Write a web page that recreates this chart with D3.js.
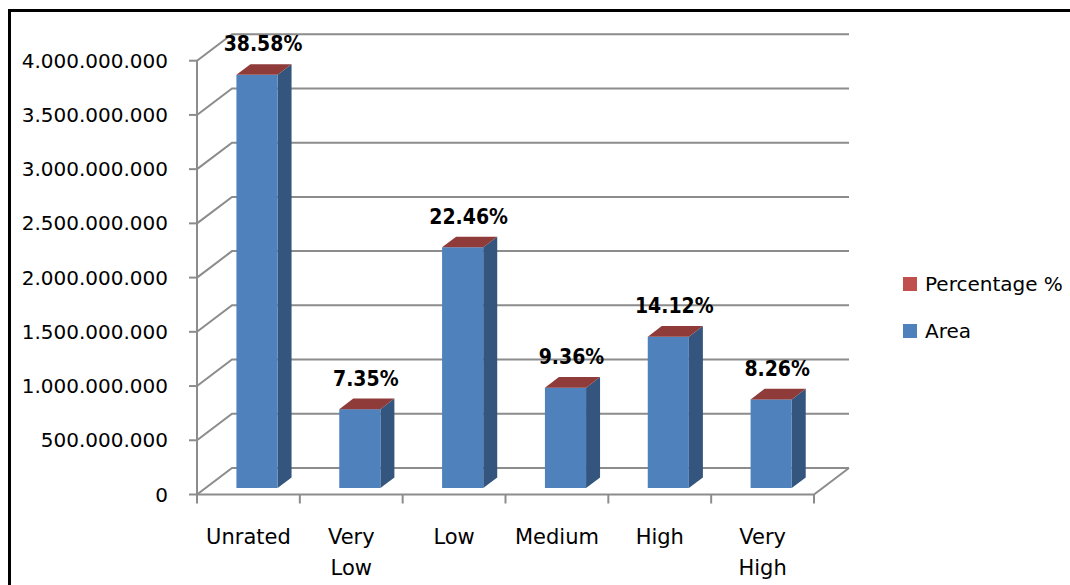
<!DOCTYPE html>
<html>
<head>
<meta charset="utf-8">
<script src="https://cdnjs.cloudflare.com/ajax/libs/d3/7.8.5/d3.min.js"></script>
<style>
  body{margin:0;background:#fff;}
  svg{display:block;font-family:"DejaVu Sans",sans-serif;}
</style>
</head>
<body>
<svg id="chart" width="1070" height="585"></svg>
<script>
"use strict";
// data
var categories = [["Unrated"],["Very","Low"],["Low"],["Medium"],["High"],["Very","High"]];
var areaValues = [3.81e9, 0.727e9, 2.22e9, 0.925e9, 1.395e9, 0.817e9];
var percentLabels = ["38.58%","7.35%","22.46%","9.36%","14.12%","8.26%"];
var yTicks = [0,5e8,1e9,1.5e9,2e9,2.5e9,3e9,3.5e9,4e9];
var legendItems = [{name:"Percentage %",colour:"#c0504d"},{name:"Area",colour:"#4f81bd"}];

var svg = d3.select("#chart");
var gridColour = "#8c8c8c";
//depth of the 3d box
var depthX = 35, depthY = -26.5;
//bars sit between these fractions of the depth
var barFront = 0.245, barDepth = 0.4;

var x = d3.scaleBand()
    .domain(d3.range(categories.length))
    .range([197,814])
    .paddingInner(0.6)
    .paddingOuter(0.3);
var y = d3.scaleLinear().domain([0,4e9]).range([494.5,60.7]);
var fmt = function(v){ return d3.format(",")(v).replace(/,/g,"."); };

//outer frame (only top and left show in the picture)
svg.append("path")
    .attr("d","M9.5,1000 L9.5,10.5 L1100,10.5")
    .style("fill","none").style("stroke","#000").style("stroke-width",3);

//back wall gridlines and side wall diagonals
var grid = svg.append("g");
yTicks.forEach(function(t){
    var yy = y(t);
    grid.append("path")
        .attr("d","M197," + yy + " L" + (197+depthX) + "," + (yy+depthY) + " L849," + (yy+depthY))
        .style("fill","none").style("stroke",gridColour).style("stroke-width",2);
});
//floor
svg.append("path")
    .attr("d","M197," + y(0) + " L814," + y(0) + " L" + (814+depthX) + "," + (y(0)+depthY))
    .style("fill","none").style("stroke",gridColour).style("stroke-width",2);
//vertical axis
svg.append("line")
    .attr("x1",197).attr("x2",197).attr("y1",y(4e9)).attr("y2",y(0))
    .style("stroke",gridColour).style("stroke-width",2);
svg.selectAll(".ytick").data(yTicks).enter().append("line")
    .attr("x1",189).attr("x2",197).attr("y1",d=>y(d)).attr("y2",d=>y(d))
    .style("stroke",gridColour).style("stroke-width",2);
svg.selectAll(".ylab").data(yTicks).enter().append("text")
    .attr("x",168).attr("y",d=>y(d)+7)
    .style("text-anchor","end").style("font-size","20px").style("fill","#000")
    .text(fmt);
//category ticks
var bounds = d3.range(categories.length+1).map(i=>197 + i*x.step());
svg.selectAll(".xtick").data(bounds).enter().append("line")
    .attr("x1",d=>d).attr("x2",d=>d).attr("y1",y(0)).attr("y2",y(0)+9)
    .style("stroke",gridColour).style("stroke-width",2);
//category labels
var catG = svg.selectAll(".xlab").data(categories).enter().append("text")
    .attr("transform",(d,i)=>"translate(" + (x(i)+x.bandwidth()/2) + ",544)")
    .style("text-anchor","middle").style("font-size","21px").style("fill","#000");
catG.selectAll("tspan").data(d=>d).enter().append("tspan")
    .attr("x",0).attr("dy",(d,i)=>i ? 31 : 0)
    .text(d=>d);

//bars
var ox = depthX*barFront, oy = depthY*barFront,
    dx = depthX*barDepth, dy = depthY*barDepth;
var bars = svg.selectAll(".bar").data(areaValues).enter().append("g");
bars.each(function(v,i){
    var g = d3.select(this),
        x0 = x(i) + ox, x1 = x0 + x.bandwidth(),
        yb = y(0) + oy, yt = y(v) + oy;
    g.append("path") //side
        .attr("d","M"+x1+","+yb+" L"+(x1+dx)+","+(yb+dy)+" L"+(x1+dx)+","+(yt+dy)+" L"+x1+","+yt+"Z")
        .style("fill","#34557d");
    g.append("rect") //front
        .attr("x",x0).attr("y",yt).attr("width",x1-x0).attr("height",yb-yt)
        .style("fill","#4f81bd");
    g.append("path") //top (the percentage series)
        .attr("d","M"+x0+","+yt+" L"+x1+","+yt+" L"+(x1+dx)+","+(yt+dy)+" L"+(x0+dx)+","+(yt+dy)+"Z")
        .style("fill","#8e3b39");
    g.append("text")
        .attr("x",(x0+x1)/2 + dx/2 - 1).attr("y",yt+dy-13)
        .style("text-anchor","middle").style("font-size","21px").style("font-weight","bold")
        .style("font-family","'DejaVu Sans Condensed','DejaVu Sans',sans-serif").style("font-stretch","condensed")
        .style("fill","#000")
        .text(percentLabels[i]);
});

//legend
var leg = svg.selectAll(".leg").data(legendItems).enter().append("g")
    .attr("transform",(d,i)=>"translate(903," + (277 + i*47) + ")");
leg.append("rect").attr("width",14).attr("height",14).style("fill",d=>d.colour);
leg.append("text").attr("x",22).attr("y",14)
    .style("font-size","20px").style("fill","#000").text(d=>d.name);
</script>
</body>
</html>
